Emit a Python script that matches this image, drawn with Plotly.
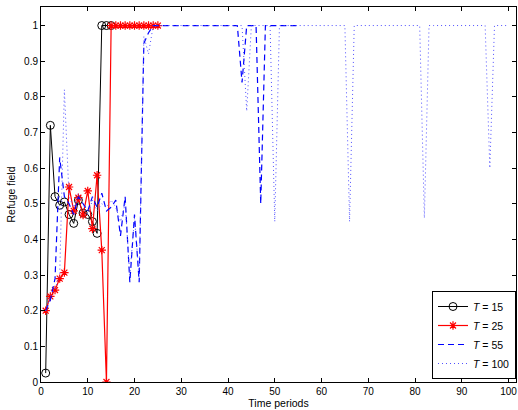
import plotly.graph_objects as go

# T = 15 series
t15_x = list(range(1, 16))
t15_y = [0.025, 0.72, 0.52, 0.496, 0.505, 0.47, 0.445, 0.51, 0.474, 0.47, 0.45, 0.417, 1.0, 1.0, 1.0]

# T = 25 series
t25_x = list(range(1, 26))
t25_y = [0.20, 0.24, 0.258, 0.29, 0.307, 0.547, 0.48, 0.517, 0.468, 0.536, 0.43, 0.58, 0.37, 0.0,
         1, 1, 1, 1, 1, 1, 1, 1, 1, 1, 1]

# T = 55 series
t55_x = list(range(1, 56))
t55_y = [0.20, 0.23, 0.29, 0.63, 0.52, 0.50, 0.47, 0.52, 0.50, 0.48, 0.52, 0.49, 0.53, 0.48, 0.49,
         0.51, 0.41, 0.52, 0.28, 0.47, 0.28, 0.95, 0.98, 1, 1, 1, 1, 1, 1, 1,
         1, 1, 1, 1, 1, 1, 1, 1, 1, 1, 1, 1, 0.84, 1, 1, 1, 0.50, 1, 1, 1,
         1, 1, 1, 1, 1]

# T = 100 series
t100_x = list(range(1, 101))
t100_y = [0.20, 0.24, 0.26, 0.30, 0.82, 0.52, 0.49, 0.53, 0.50, 0.47, 0.51, 0.48, 0.50, 0.49, 0.51,
          0.49, 0.45, 0.50, 0.30, 0.46, 0.30, 0.97, 0.92, 1, 1, 1, 1, 1, 1, 1,
          1, 1, 1, 1, 1, 1, 1, 1, 1, 1, 1, 1, 1, 0.76, 1, 1, 1, 1, 1, 0.45,
          1, 1, 1, 1, 1, 1, 1, 1, 1, 1, 1, 1, 1, 1, 1, 0.45, 1, 1, 1, 1,
          1, 1, 1, 1, 1, 1, 1, 1, 1, 1, 1, 0.46, 1, 1, 1, 1, 1, 1, 1, 1,
          1, 1, 1, 1, 1, 0.60, 1, 1, 1, 1]

x_ticks = list(range(0, 101, 10))
y_ticks = [round(0.1 * i, 1) for i in range(11)]
y_tick_text = ["0", "0.1", "0.2", "0.3", "0.4", "0.5", "0.6", "0.7", "0.8", "0.9", "1"]

FONT = "Liberation Sans, Arial, Helvetica, sans-serif"

fig = go.Figure()
fig.add_trace(go.Scatter(
    x=t15_x, y=t15_y, mode="lines+markers", name="<i>T</i> = 15",
    line=dict(color="black", width=1),
    marker=dict(symbol="circle-open", size=8, color="black", line=dict(width=1, color="black")),
))
fig.add_trace(go.Scatter(
    x=t25_x, y=t25_y, mode="lines+markers", name="<i>T</i> = 25",
    line=dict(color="red", width=1.2),
    marker=dict(symbol="asterisk-open", size=7, color="red", line=dict(width=1.2, color="red")),
))
fig.add_trace(go.Scatter(
    x=t55_x, y=t55_y, mode="lines", name="<i>T</i> = 55",
    line=dict(color="#0000ff", width=1.2, dash="6px,4px"),
))
fig.add_trace(go.Scatter(
    x=t100_x, y=t100_y, mode="lines", name="<i>T</i> = 100",
    line=dict(color="#5050ff", width=1, dash="1px,3px"),
))

axis_common = dict(
    showline=True, linecolor="black", linewidth=1, mirror="ticks",
    ticks="inside", ticklen=4, tickcolor="black", showgrid=False, zeroline=False,
    tickfont=dict(family=FONT, size=10, color="black"),
)

fig.update_xaxes(
    range=[0, 101.6], tickvals=x_ticks,
    title=dict(text="Time periods", font=dict(family=FONT, size=10.5, color="black"), standoff=2),
    **axis_common,
)
fig.update_yaxes(
    range=[0, 1.052], tickvals=y_ticks, ticktext=y_tick_text,
    title=dict(text="Refuge field", font=dict(family=FONT, size=10.5, color="black"), standoff=6),
    **axis_common,
)

fig.update_layout(
    width=518, height=410,
    margin=dict(l=41, r=2, t=7, b=28),
    paper_bgcolor="white", plot_bgcolor="white",
    font=dict(family=FONT, size=10, color="black"),
    legend=dict(
        x=1, xanchor="right", y=0.008, yanchor="bottom",
        bgcolor="white", bordercolor="black", borderwidth=1,
        font=dict(family=FONT, size=10.5, color="black"),
        tracegroupgap=0, itemwidth=30,
    ),
    showlegend=True,
)

fig.write_html("out.html")
